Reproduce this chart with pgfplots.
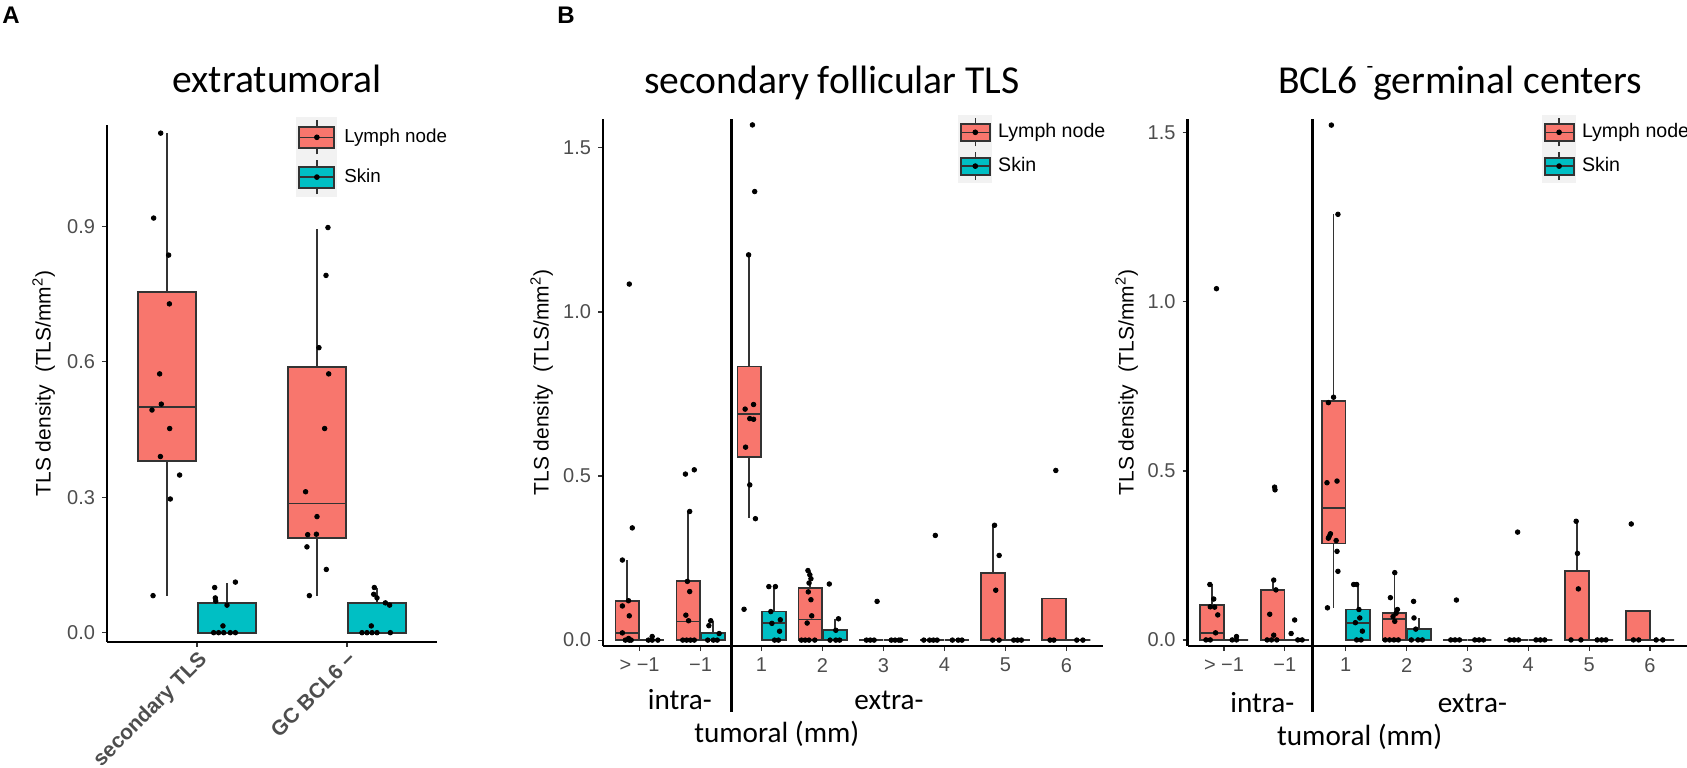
\documentclass[border=0pt]{standalone}
\usepackage{fontspec}
\setmainfont{Liberation Sans}
\newfontfamily\carlito{Carlito}
\usepackage{pgfplots}
\pgfplotsset{compat=1.18}
\usepgfplotslibrary{statistics}
\definecolor{lnred}{HTML}{F8766D}
\definecolor{skteal}{HTML}{00BFC4}
\definecolor{boxgray}{HTML}{333333}
\definecolor{tickgray}{HTML}{4D4D4D}
\definecolor{keybg}{HTML}{F2F2F2}

% fill colour, half height of key background, background width, box half height
\newcommand{\keyglyph}[4]{%
  \fill[keybg] (0pt,-#2) rectangle (#3,#2);
  \draw[boxgray,line width=0.8pt] (0.5*#3,-#2+1.2pt) -- (0.5*#3,#2-1.2pt);
  \filldraw[fill=#1,draw=boxgray,line width=1pt] (0.06*#3,-#4) rectangle (0.94*#3,#4);
  \draw[boxgray,line width=0.8pt] (0.06*#3,0pt) -- (0.94*#3,0pt);
  \fill[black] (0.5*#3,0pt) circle (1.2pt);
}

\pgfplotsset{
  ggaxis/.style={
    scale only axis, clip=false,
    axis lines=left, axis line style={-, line width=1.1pt, black},
    tick align=outside, major tick length=2.5pt,
    tick style={boxgray, line width=0.6pt},
    tick label style={color=tickgray},
    /pgf/number format/assume math mode=true,
    yticklabel style={/pgf/number format/fixed, /pgf/number format/fixed zerofill, /pgf/number format/precision=1, font=\fontsize{10}{12}\selectfont},
    ylabel={TLS density\hspace{0.6em}(TLS/mm\textsuperscript{2})},
    legend cell align=left,
    legend style={draw=none, fill=none, inner sep=0pt, row sep=0pt, anchor=north west, nodes={inner sep=0pt}},
  },
  bx/.style={forget plot, draw=boxgray, line width=0.9pt, boxplot/draw direction=y, boxplot/box extend=0.39, boxplot/whisker extend=0},
  pts/.style={only marks, mark=*, mark size=1.15pt, black, forget plot},
}
% draw position, lower whisker, lower quartile, median, upper quartile, upper whisker, fill
\newcommand{\bx}[7]{\addplot[bx, fill=#7, boxplot prepared={draw position=#1, lower whisker=#2, lower quartile=#3, median=#4, upper quartile=#5, upper whisker=#6}] coordinates {};}

\begin{document}
\begin{tikzpicture}
\node[anchor=north west, inner sep=0pt, font=\bfseries\fontsize{12}{12}\selectfont] at (1pt,-3.5pt) {A};
\node[anchor=north west, inner sep=0pt, font=\bfseries\fontsize{12}{12}\selectfont] at (278.5pt,-3.5pt) {B};

% ---------------- Panel A ----------------
\begin{axis}[ggaxis, at={(53.5pt,-320.85pt)}, anchor=south west, width=165pt, height=258.35pt,
  xmin=0.4, xmax=2.6, ymin=-0.02, ymax=1.124,
  xtick={1,2}, xticklabels={secondary TLS, GC BCL6 −},
  xticklabel style={rotate=45, anchor=north east, font=\bfseries\fontsize{10.5}{12}\selectfont, inner sep=1pt},
  ytick={0,0.3,0.6,0.9},
  ylabel style={at={(axis description cs:-0.136,0.5)}, anchor=south, font=\fontsize{10.5}{12}\selectfont},
  legend style={at={(0.573,1.0155)}, font=\fontsize{9.4}{11}\selectfont, column sep=3.5pt}]
\addlegendimage{legend image code/.code={\keyglyph{lnred}{9.75pt}{20pt}{5.25pt}}}
\addlegendentry{Lymph node}
\addlegendimage{legend image code/.code={\keyglyph{skteal}{9.75pt}{20pt}{5.25pt}}}
\addlegendentry{Skin}
\bx{0.8}{0.082}{0.380}{0.499}{0.754}{1.106}{lnred}
\bx{1.2}{0}{0}{0}{0.066}{0.109}{skteal}
\bx{1.8}{0.082}{0.209}{0.286}{0.589}{0.894}{lnred}
\bx{2.2}{0}{0}{0}{0.066}{0.100}{skteal}
\addplot[pts] coordinates {
(0.758,1.106) (0.711,0.918) (0.811,0.836) (0.816,0.728) (0.751,0.573) (0.762,0.506)
(0.700,0.493) (0.818,0.452) (0.756,0.390) (0.884,0.349) (0.822,0.296) (0.707,0.082)
(1.118,0.100) (1.122,0.077) (1.125,0.070) (1.200,0.061) (1.256,0.112) (1.173,0.015)
(1.111,0) (1.144,0) (1.178,0) (1.222,0) (1.256,0)
(1.873,0.897) (1.860,0.791) (1.813,0.631) (1.878,0.573) (1.851,0.452) (1.724,0.312)
(1.800,0.257) (1.738,0.217) (1.796,0.218) (1.733,0.190) (1.862,0.140) (1.749,0.082)
(2.182,0.100) (2.178,0.085) (2.200,0.077) (2.256,0.066) (2.284,0.061) (2.162,0.015)
(2.100,0) (2.133,0) (2.167,0) (2.200,0) (2.289,0)
};
\node[anchor=base, font=\carlito\fontsize{19.8}{22}\selectfont] at (axis description cs:0.515,1.062) {extratumoral};
\end{axis}

% ---------------- Panel B1 ----------------
\begin{axis}[ggaxis, at={(301.5pt,-323pt)}, anchor=south west, width=250pt, height=263.5pt,
  xmin=0.4, xmax=8.6, ymin=-0.018, ymax=1.588,
  xtick={1,...,8}, xticklabels={> −1, −1, 1, 2, 3, 4, 5, 6},
  xticklabel style={font=\fontsize{10}{12}\selectfont},
  ytick={0,0.5,1,1.5},
  ylabel style={at={(axis description cs:-0.086,0.5)}, anchor=south, font=\fontsize{10.5}{12}\selectfont},
  legend style={at={(0.71,1.0076)}, font=\fontsize{9.8}{11}\selectfont, column sep=3pt}]
\addlegendimage{legend image code/.code={\keyglyph{lnred}{8.25pt}{16.5pt}{4.25pt}}}
\addlegendentry{Lymph node}
\addlegendimage{legend image code/.code={\keyglyph{skteal}{8.25pt}{16.5pt}{4.25pt}}}
\addlegendentry{Skin}
\bx{0.8}{0}{0}{0.022}{0.120}{0.244}{lnred}
\bx{1.2}{0}{0}{0}{0}{0}{skteal}
\bx{1.8}{0}{0}{0.057}{0.179}{0.392}{lnred}
\bx{2.2}{0}{0}{0}{0.022}{0.059}{skteal}
\bx{2.8}{0.373}{0.558}{0.689}{0.834}{1.174}{lnred}
\bx{3.2}{0}{0}{0.051}{0.087}{0.163}{skteal}
\bx{3.8}{0}{0}{0.063}{0.160}{0.212}{lnred}
\bx{4.2}{0}{0}{0}{0.030}{0.065}{skteal}
\bx{4.8}{0}{0}{0}{0}{0}{lnred}
\bx{5.2}{0}{0}{0}{0}{0}{skteal}
\bx{5.8}{0}{0}{0}{0}{0}{lnred}
\bx{6.2}{0}{0}{0}{0}{0}{skteal}
\bx{6.8}{0}{0}{0}{0.204}{0.350}{lnred}
\bx{7.2}{0}{0}{0}{0}{0}{skteal}
\bx{7.8}{0}{0}{0}{0.127}{0.127}{lnred}
\bx{8.2}{0}{0}{0}{0}{0}{skteal}
\addplot[pts] coordinates {
(0.718,0.244) (0.880,0.342) (0.831,1.085) (0.718,0.104) (0.831,0.074) (0.718,0.022)
(0.818,0.120) (0.767,0) (0.831,0) (0.862,0) (0.820,0.005)
(1.144,0) (1.207,0) (1.300,0) (1.207,0.011)
(1.752,0.506) (1.897,0.519) (1.822,0.392) (1.784,0.179) (1.822,0.148) (1.759,0.076)
(1.803,0.059) (1.708,0) (1.772,0) (1.834,0) (1.897,0)
(2.167,0.059) (2.136,0.044) (2.305,0.020) (2.117,0) (2.210,0) (2.274,0)
(2.851,1.570) (2.888,1.367) (2.788,1.174) (2.869,0.718) (2.731,0.704) (2.807,0.675)
(2.869,0.673) (2.738,0.588) (2.807,0.473) (2.900,0.370) (2.713,0.094)
(3.120,0.163) (3.227,0.163) (3.152,0.087) (3.170,0.051) (3.308,0.062) (3.296,0.027)
(3.214,0) (3.277,0)
(3.761,0.212) (3.792,0.199) (3.810,0.187) (3.779,0.174) (3.810,0.123) (3.767,0.147)
(3.823,0.074) (3.748,0.052) (3.654,0) (3.716,0) (3.779,0) (3.873,0)
(4.111,0.171) (4.262,0.065) (4.218,0.030) (4.124,0) (4.218,0) (4.280,0)
(4.720,0) (4.783,0) (4.846,0) (4.895,0.118)
(5.128,0) (5.190,0) (5.253,0) (5.285,0)
(5.661,0) (5.756,0) (5.818,0) (5.880,0) (5.850,0.319)
(6.130,0) (6.225,0) (6.287,0)
(6.821,0.350) (6.897,0.258) (6.841,0.152) (6.790,0) (6.897,0)
(7.136,0) (7.198,0) (7.261,0)
(7.826,0.517) (7.731,0) (7.794,0)
(8.170,0) (8.270,0)
};
\draw[line width=1.5pt] (axis description cs:0.2561,1) -- (axis description cs:0.2561,-0.125);
\node[font=\carlito\fontsize{14.6}{16}\selectfont] at (axis description cs:0.1537,-0.1025) {intra-};
\node[font=\carlito\fontsize{14.6}{16}\selectfont] at (axis description cs:0.572,-0.1025) {extra-};
\node[font=\carlito\fontsize{14.6}{16}\selectfont] at (axis description cs:0.3476,-0.167) {tumoral (mm)};
\node[anchor=base, font=\carlito\fontsize{19.8}{22}\selectfont] at (axis description cs:0.458,1.048) {secondary follicular TLS};
\end{axis}

% ---------------- Panel B2 ----------------
\begin{axis}[ggaxis, at={(593.75pt,-323pt)}, anchor=south west, width=249.5pt, height=263.5pt,
  xmin=0.4, xmax=8.6, ymin=-0.018, ymax=1.541,
  xtick={1,...,8}, xticklabels={> −1, −1, 1, 2, 3, 4, 5, 6},
  xticklabel style={font=\fontsize{10}{12}\selectfont},
  ytick={0,0.5,1,1.5},
  ylabel style={at={(axis description cs:-0.085,0.5)}, anchor=south, font=\fontsize{10.5}{12}\selectfont},
  legend style={at={(0.71,1.0076)}, font=\fontsize{9.8}{11}\selectfont, column sep=3pt}]
\addlegendimage{legend image code/.code={\keyglyph{lnred}{8.25pt}{16.5pt}{4.25pt}}}
\addlegendentry{Lymph node}
\addlegendimage{legend image code/.code={\keyglyph{skteal}{8.25pt}{16.5pt}{4.25pt}}}
\addlegendentry{Skin}
\bx{0.8}{0}{0}{0.021}{0.1035}{0.164}{lnred}
\bx{1.2}{0}{0}{0}{0}{0}{skteal}
\bx{1.8}{0}{0}{0}{0.148}{0.177}{lnred}
\bx{2.2}{0}{0}{0}{0}{0}{skteal}
\bx{2.8}{0.095}{0.285}{0.391}{0.707}{1.259}{lnred}
\bx{3.2}{0}{0}{0.051}{0.090}{0.164}{skteal}
\bx{3.8}{0}{0}{0.061}{0.079}{0.199}{lnred}
\bx{4.2}{0}{0}{0}{0.032}{0.065}{skteal}
\bx{4.8}{0}{0}{0}{0}{0}{lnred}
\bx{5.2}{0}{0}{0}{0}{0}{skteal}
\bx{5.8}{0}{0}{0}{0}{0}{lnred}
\bx{6.2}{0}{0}{0}{0}{0}{skteal}
\bx{6.8}{0}{0}{0}{0.204}{0.351}{lnred}
\bx{7.2}{0}{0}{0}{0}{0}{skteal}
\bx{7.8}{0}{0}{0}{0.0845}{0.0845}{lnred}
\bx{8.2}{0}{0}{0}{0}{0}{skteal}
\addplot[pts] coordinates {
(0.767,0.164) (0.831,0.121) (0.774,0.098) (0.846,0.097) (0.897,0.074) (0.861,0.021)
(0.876,1.039) (0.703,0) (0.774,0)
(1.134,0) (1.205,0) (1.205,0.010)
(1.817,0.177) (1.853,0.148) (1.751,0.076) (1.817,0.014) (1.831,0.452) (1.838,0.444)
(1.708,0) (1.780,0) (1.867,0)
(2.161,0.059) (2.103,0.019) (2.212,0) (2.284,0)
(2.764,1.523) (2.872,1.259) (2.800,0.718) (2.715,0.702) (2.692,0.465) (2.857,0.470)
(2.749,0.314) (2.728,0.306) (2.715,0.301) (2.843,0.294) (2.857,0.262) (2.872,0.203)
(2.700,0.095)
(3.131,0.164) (3.180,0.164) (3.217,0.090) (3.231,0.065) (3.159,0.051) (3.274,0.026)
(3.180,0) (3.252,0)
(3.806,0.199) (3.734,0.125) (3.849,0.090) (3.828,0.079) (3.777,0.069) (3.806,0.055)
(3.648,0) (3.720,0) (3.792,0) (3.864,0)
(4.115,0.114) (4.122,0.065) (4.151,0.032) (4.079,0) (4.187,0) (4.259,0)
(4.726,0) (4.797,0) (4.869,0) (4.819,0.118)
(5.121,0) (5.192,0) (5.264,0)
(5.695,0) (5.767,0) (5.839,0) (5.825,0.319)
(6.127,0) (6.199,0) (6.270,0)
(6.787,0.351) (6.808,0.256) (6.823,0.151) (6.702,0) (6.865,0)
(7.133,0) (7.205,0) (7.276,0)
(7.692,0.343) (7.728,0) (7.815,0)
(8.102,0) (8.210,0)
};
\draw[line width=1.5pt] (axis description cs:0.2512,1) -- (axis description cs:0.2512,-0.125);
\node[font=\carlito\fontsize{14.6}{16}\selectfont] at (axis description cs:0.150,-0.108) {intra-};
\node[font=\carlito\fontsize{14.6}{16}\selectfont] at (axis description cs:0.571,-0.108) {extra-};
\node[font=\carlito\fontsize{14.6}{16}\selectfont] at (axis description cs:0.345,-0.172) {tumoral (mm)};
\node[anchor=base, font=\carlito\fontsize{19.8}{22}\selectfont] at (axis description cs:0.546,1.048) {BCL6 \raisebox{0.5em}{\fontsize{11}{11}\selectfont -}germinal centers};
\end{axis}
\pgfresetboundingbox
\useasboundingbox (0,0) rectangle (843.5pt,-383.5pt);
\end{tikzpicture}
\end{document}
